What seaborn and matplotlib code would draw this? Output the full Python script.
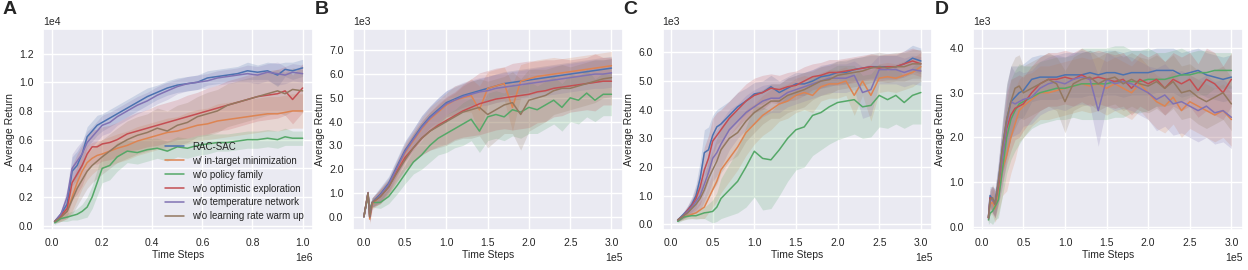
import numpy as np
import pandas as pd
import matplotlib
matplotlib.use("Agg")
import matplotlib.pyplot as plt
import seaborn as sns
from matplotlib.ticker import ScalarFormatter, MultipleLocator

# ---------------- DATA (values in displayed units: x * X_SCALE, y * Y_SCALE) ----------------
series_names = ["RAC-SAC", "w/ in-target minimization", "w/o policy family",
                "w/o optimistic exploration", "w/o temperature network",
                "w/o learning rate warm up"]

# Panel A  (x in 1e6, y in 1e4)
a_x = [0.01, 0.035, 0.06, 0.08, 0.1, 0.12, 0.14, 0.16, 0.18, 0.2, 0.23, 0.26, 0.3, 0.34, 0.38,
       0.42, 0.46, 0.5, 0.54, 0.58, 0.62, 0.66, 0.7, 0.74, 0.78, 0.82, 0.86, 0.9, 0.93, 0.96, 1.0]
a_rac = [0.03, 0.08, 0.15, 0.38, 0.42, 0.50, 0.62, 0.66, 0.70, 0.72, 0.75, 0.78, 0.82, 0.86, 0.90,
         0.93, 0.96, 0.98, 0.99, 1.00, 1.03, 1.04, 1.05, 1.06, 1.08, 1.07, 1.08, 1.05, 1.09, 1.08, 1.10]
a_intarget = [0.03, 0.06, 0.10, 0.20, 0.30, 0.38, 0.44, 0.47, 0.49, 0.50, 0.52, 0.54, 0.56, 0.59, 0.61,
              0.63, 0.65, 0.66, 0.68, 0.70, 0.71, 0.73, 0.74, 0.75, 0.76, 0.77, 0.78, 0.78, 0.79, 0.80, 0.80]
a_policy = [0.02, 0.05, 0.06, 0.07, 0.08, 0.10, 0.13, 0.20, 0.30, 0.40, 0.42, 0.48, 0.52, 0.51, 0.53,
            0.54, 0.52, 0.55, 0.54, 0.56, 0.57, 0.58, 0.58, 0.59, 0.60, 0.60, 0.61, 0.60, 0.62, 0.61, 0.61]
a_optim = [0.03, 0.07, 0.12, 0.30, 0.36, 0.42, 0.50, 0.55, 0.55, 0.57, 0.58, 0.60, 0.64, 0.66, 0.68,
           0.70, 0.72, 0.74, 0.76, 0.78, 0.80, 0.82, 0.84, 0.86, 0.88, 0.90, 0.91, 0.92, 0.94, 0.88, 0.96]
a_temp = [0.03, 0.08, 0.20, 0.40, 0.45, 0.50, 0.58, 0.62, 0.66, 0.70, 0.72, 0.76, 0.80, 0.84, 0.87,
          0.91, 0.94, 0.97, 0.99, 1.00, 1.01, 1.03, 1.04, 1.05, 1.06, 1.05, 1.07, 1.06, 1.05, 1.07, 1.06]
a_warm = [0.03, 0.06, 0.10, 0.18, 0.26, 0.32, 0.38, 0.42, 0.45, 0.48, 0.52, 0.56, 0.60, 0.63, 0.65,
          0.68, 0.66, 0.70, 0.72, 0.76, 0.78, 0.80, 0.84, 0.86, 0.88, 0.90, 0.92, 0.94, 0.92, 0.95, 0.94]
a_sd_rac = [0.01, 0.02, 0.05, 0.10, 0.10, 0.08, 0.07, 0.07, 0.07, 0.06, 0.06, 0.06, 0.06, 0.06, 0.06,
            0.05, 0.05, 0.05, 0.05, 0.05, 0.05, 0.05, 0.05, 0.05, 0.06, 0.05, 0.06, 0.08, 0.05, 0.06, 0.06]
a_sd_intarget = [0.01, 0.03, 0.05, 0.10, 0.12, 0.12, 0.12, 0.11, 0.10, 0.10, 0.10, 0.10, 0.10, 0.10, 0.10,
                 0.10, 0.10, 0.10, 0.11, 0.11, 0.11, 0.12, 0.12, 0.12, 0.12, 0.12, 0.12, 0.12, 0.12, 0.12, 0.12]
a_sd_policy = [0.01, 0.02, 0.03, 0.03, 0.04, 0.05, 0.07, 0.08, 0.09, 0.10, 0.10, 0.10, 0.08, 0.08, 0.08,
               0.07, 0.07, 0.07, 0.07, 0.07, 0.07, 0.06, 0.06, 0.06, 0.06, 0.06, 0.06, 0.06, 0.06, 0.05, 0.05]
a_sd_optim = [0.01, 0.03, 0.06, 0.12, 0.14, 0.14, 0.12, 0.12, 0.12, 0.12, 0.12, 0.12, 0.12, 0.13, 0.13,
              0.14, 0.14, 0.14, 0.15, 0.15, 0.16, 0.16, 0.17, 0.17, 0.17, 0.17, 0.17, 0.17, 0.17, 0.17, 0.17]
a_sd_temp = [0.01, 0.02, 0.06, 0.10, 0.10, 0.09, 0.08, 0.07, 0.07, 0.07, 0.07, 0.06, 0.06, 0.06, 0.06,
             0.06, 0.06, 0.05, 0.05, 0.05, 0.05, 0.05, 0.05, 0.05, 0.06, 0.06, 0.06, 0.08, 0.06, 0.06, 0.06]
a_sd_warm = [0.01, 0.03, 0.05, 0.10, 0.12, 0.12, 0.12, 0.12, 0.12, 0.12, 0.12, 0.12, 0.13, 0.13, 0.13,
             0.14, 0.14, 0.14, 0.14, 0.14, 0.15, 0.15, 0.15, 0.15, 0.15, 0.15, 0.15, 0.15, 0.15, 0.15, 0.15]

# Panel B  (x in 1e5, y in 1e3)
b_x = [0.0, 0.05, 0.07, 0.1, 0.2, 0.3, 0.4, 0.5, 0.6, 0.7, 0.8, 0.9, 1.0, 1.1, 1.2, 1.3, 1.4,
       1.5, 1.6, 1.7, 1.8, 1.9, 2.0, 2.1, 2.2, 2.3, 2.4, 2.5, 2.6, 2.7, 2.8, 2.9, 3.0]
b_rac = [0.0, 1.0, 0.1, 0.6, 0.95, 1.4, 2.1, 2.8, 3.3, 3.8, 4.2, 4.5, 4.8, 4.95, 5.1, 5.2, 5.3,
         5.4, 5.5, 5.6, 5.65, 5.7, 5.75, 5.8, 5.85, 5.9, 5.95, 6.0, 6.05, 6.1, 6.15, 6.2, 6.25]
b_intarget = [0.0, 1.0, -0.1, 0.5, 0.9, 1.3, 2.0, 2.7, 3.2, 3.7, 4.1, 4.4, 4.7, 4.9, 5.0, 5.1, 4.5,
              5.4, 5.5, 5.6, 4.6, 5.7, 5.8, 5.9, 5.95, 6.0, 6.05, 6.1, 6.15, 6.2, 6.25, 6.3, 6.35]
b_policy = [0.0, 0.9, 0.3, 0.6, 0.6, 0.85, 1.3, 1.8, 2.3, 2.6, 3.0, 3.3, 3.5, 3.7, 3.9, 4.1, 3.6,
            4.2, 4.3, 4.2, 4.5, 4.4, 4.6, 4.5, 4.7, 4.9, 4.6, 5.0, 4.9, 5.2, 4.9, 5.15, 5.15]
b_optim = [0.0, 1.0, 0.0, 0.6, 0.85, 1.25, 1.9, 2.5, 2.9, 3.3, 3.6, 3.85, 4.05, 4.25, 4.45, 4.6, 4.75,
           4.85, 4.95, 5.0, 5.05, 5.1, 5.15, 5.25, 5.3, 5.4, 5.45, 5.5, 5.55, 5.6, 5.65, 5.7, 5.7]
b_temp = [0.0, 1.0, 0.0, 0.6, 0.9, 1.35, 2.05, 2.75, 3.25, 3.75, 4.15, 4.45, 4.75, 4.9, 5.05, 5.15, 5.25,
          5.3, 5.4, 5.45, 5.5, 5.55, 5.6, 5.65, 5.7, 5.75, 5.8, 5.85, 5.9, 5.95, 6.0, 6.0, 6.05]
b_warm = [0.0, 1.0, 0.0, 0.6, 0.85, 1.25, 1.85, 2.4, 2.9, 3.3, 3.6, 3.8, 4.0, 4.2, 4.4, 4.5, 4.6,
          4.3, 4.5, 4.7, 4.8, 4.3, 4.9, 5.0, 5.1, 5.3, 5.4, 5.4, 5.5, 5.6, 5.7, 5.8, 5.85]
b_sd_rac = [0.0, 0.1, 0.2, 0.2, 0.3, 0.3, 0.35, 0.4, 0.4, 0.45, 0.45, 0.5, 0.5, 0.5, 0.5, 0.5, 0.5,
            0.5, 0.5, 0.5, 0.5, 0.5, 0.5, 0.5, 0.5, 0.5, 0.5, 0.5, 0.5, 0.5, 0.5, 0.5, 0.5]
b_sd_intarget = [0.0, 0.1, 0.2, 0.2, 0.3, 0.3, 0.35, 0.4, 0.4, 0.45, 0.5, 0.5, 0.5, 0.6, 0.6, 0.7, 1.0,
                 0.7, 0.7, 0.7, 1.0, 0.7, 0.7, 0.7, 0.7, 0.7, 0.6, 0.6, 0.6, 0.6, 0.6, 0.6, 0.6]
b_sd_policy = [0.0, 0.1, 0.2, 0.2, 0.25, 0.3, 0.35, 0.4, 0.5, 0.6, 0.7, 0.7, 0.8, 0.8, 0.9, 0.9, 0.9,
               1.0, 1.0, 1.0, 1.1, 1.1, 1.1, 1.0, 1.0, 1.0, 1.0, 1.0, 1.0, 1.0, 0.9, 0.9, 0.9]
b_sd_optim = [0.0, 0.1, 0.2, 0.2, 0.3, 0.3, 0.4, 0.5, 0.6, 0.7, 0.8, 0.9, 1.0, 1.0, 1.1, 1.2, 1.3,
              1.3, 1.3, 1.3, 1.4, 1.4, 1.4, 1.3, 1.3, 1.2, 1.2, 1.1, 1.1, 1.1, 1.2, 1.0, 1.0]
b_sd_temp = [0.0, 0.1, 0.2, 0.2, 0.3, 0.3, 0.35, 0.4, 0.45, 0.5, 0.5, 0.55, 0.55, 0.6, 0.6, 0.6, 0.6,
             0.6, 0.6, 0.6, 0.6, 0.6, 0.6, 0.6, 0.6, 0.6, 0.6, 0.6, 0.6, 0.6, 0.6, 0.6, 0.6]
b_sd_warm = [0.0, 0.1, 0.2, 0.2, 0.3, 0.3, 0.4, 0.5, 0.6, 0.7, 0.8, 0.9, 1.0, 1.0, 1.1, 1.2, 1.2,
             1.4, 1.3, 1.2, 1.3, 1.5, 1.3, 1.2, 1.1, 1.0, 1.0, 0.9, 0.9, 0.9, 0.9, 0.8, 0.8]

# Panel C  (x in 1e5, y in 1e3)
c_x = [0.08, 0.15, 0.2, 0.25, 0.3, 0.35, 0.4, 0.45, 0.5, 0.55, 0.6, 0.7, 0.8, 0.9, 1.0, 1.1, 1.2,
       1.3, 1.4, 1.5, 1.6, 1.7, 1.8, 1.9, 2.0, 2.1, 2.2, 2.3, 2.4, 2.5, 2.6, 2.7, 2.8, 2.9, 3.0]
c_rac = [0.15, 0.35, 0.5, 0.7, 1.0, 1.6, 2.5, 2.6, 3.1, 3.4, 3.5, 3.8, 4.1, 4.3, 4.55, 4.6, 4.8,
         4.6, 4.75, 4.9, 4.9, 5.0, 5.15, 5.2, 5.3, 5.3, 5.4, 5.45, 5.5, 5.5, 5.5, 5.5, 5.6, 5.8, 5.7]
c_intarget = [0.15, 0.25, 0.3, 0.35, 0.4, 0.5, 0.6, 0.9, 1.2, 1.5, 1.9, 2.3, 2.7, 3.2, 3.5, 3.8, 4.0,
              4.2, 4.3, 4.5, 4.6, 4.5, 4.8, 4.9, 4.9, 5.0, 4.5, 5.0, 4.5, 5.1, 5.15, 5.1, 5.2, 5.3, 5.5]
c_policy = [0.1, 0.25, 0.28, 0.3, 0.3, 0.35, 0.4, 0.42, 0.45, 0.6, 0.9, 1.2, 1.5, 2.0, 2.55, 2.3, 2.25,
            2.6, 3.0, 3.3, 3.4, 3.8, 3.9, 4.1, 4.25, 4.3, 4.35, 4.1, 4.15, 4.5, 4.35, 4.5, 4.25, 4.5, 4.6]
c_optim = [0.15, 0.3, 0.5, 0.65, 0.9, 1.3, 1.9, 2.3, 2.9, 3.1, 3.3, 3.7, 4.0, 4.3, 4.5, 4.6, 4.75,
           4.7, 4.8, 4.85, 5.0, 5.15, 5.2, 5.3, 5.3, 5.35, 5.4, 5.45, 5.5, 5.45, 5.5, 5.5, 5.6, 5.7, 5.6]
c_temp = [0.15, 0.3, 0.45, 0.6, 0.8, 1.0, 1.4, 1.8, 2.3, 2.5, 2.8, 3.3, 3.6, 3.9, 4.1, 4.3, 4.4,
          4.4, 4.6, 4.7, 4.8, 4.9, 5.0, 5.1, 5.1, 5.1, 5.2, 4.6, 4.7, 5.4, 5.4, 5.4, 5.3, 5.4, 5.35]
c_warm = [0.15, 0.3, 0.4, 0.55, 0.7, 0.9, 1.2, 1.6, 1.9, 2.2, 2.6, 3.0, 3.2, 3.6, 3.9, 4.1, 4.3,
          4.3, 4.5, 4.6, 4.7, 4.85, 5.0, 5.05, 5.2, 5.25, 5.3, 5.35, 5.45, 5.5, 5.45, 5.5, 5.5, 5.6, 5.6]
c_sd_rac = [0.05, 0.1, 0.15, 0.25, 0.4, 0.6, 0.8, 0.8, 0.7, 0.6, 0.6, 0.5, 0.5, 0.45, 0.4, 0.4, 0.4,
            0.4, 0.4, 0.4, 0.4, 0.4, 0.4, 0.4, 0.4, 0.4, 0.4, 0.4, 0.4, 0.4, 0.4, 0.4, 0.45, 0.45, 0.45]
c_sd_intarget = [0.05, 0.1, 0.1, 0.15, 0.2, 0.3, 0.4, 0.5, 0.6, 0.7, 0.8, 0.8, 0.8, 0.8, 0.7, 0.7, 0.7,
                 0.6, 0.6, 0.6, 0.6, 0.6, 0.5, 0.5, 0.5, 0.5, 0.7, 0.5, 0.9, 0.5, 0.5, 0.5, 0.5, 0.5, 0.5]
c_sd_policy = [0.05, 0.1, 0.1, 0.1, 0.12, 0.15, 0.2, 0.3, 0.4, 0.5, 0.7, 0.9, 1.1, 1.4, 1.6, 1.8, 1.7,
               1.6, 1.5, 1.4, 1.4, 1.4, 1.3, 1.3, 1.3, 1.25, 1.2, 1.1, 1.1, 1.1, 1.0, 1.0, 0.9, 1.0, 1.1]
c_sd_optim = [0.05, 0.1, 0.15, 0.25, 0.4, 0.6, 0.8, 0.8, 0.8, 0.8, 0.7, 0.6, 0.6, 0.6, 0.6, 0.6, 0.5,
              0.5, 0.5, 0.5, 0.5, 0.45, 0.45, 0.45, 0.45, 0.45, 0.45, 0.45, 0.45, 0.45, 0.45, 0.45, 0.45, 0.45, 0.45]
c_sd_temp = [0.05, 0.1, 0.15, 0.25, 0.35, 0.5, 0.6, 0.7, 0.8, 0.8, 0.8, 0.7, 0.6, 0.6, 0.6, 0.55, 0.5,
             0.5, 0.5, 0.5, 0.5, 0.5, 0.5, 0.5, 0.5, 0.5, 0.5, 0.9, 0.9, 0.5, 0.5, 0.5, 0.5, 0.5, 0.5]
c_sd_warm = [0.05, 0.1, 0.15, 0.2, 0.3, 0.4, 0.5, 0.6, 0.7, 0.8, 0.8, 0.8, 0.8, 0.7, 0.7, 0.6, 0.6,
             0.6, 0.6, 0.6, 0.6, 0.5, 0.5, 0.5, 0.5, 0.5, 0.5, 0.5, 0.5, 0.5, 0.5, 0.5, 0.5, 0.5, 0.5]

# Panel D  (x in 1e5, y in 1e3)
d_x = [0.08, 0.1, 0.13, 0.16, 0.2, 0.25, 0.3, 0.35, 0.4, 0.45, 0.5, 0.6, 0.7, 0.8, 0.9, 1.0, 1.1, 1.2,
       1.3, 1.4, 1.5, 1.6, 1.7, 1.8, 1.9, 2.0, 2.1, 2.2, 2.3, 2.4, 2.5, 2.6, 2.7, 2.8, 2.9, 3.0]
d_rac = [0.2, 0.7, 0.6, 0.55, 1.0, 1.8, 2.4, 2.8, 2.9, 3.0, 3.05, 3.3, 3.35, 3.35, 3.35, 3.4, 3.4, 3.4,
         3.45, 3.4, 3.45, 3.45, 3.4, 3.45, 3.45, 3.45, 3.5, 3.5, 3.5, 3.4, 3.45, 3.5, 3.4, 3.35, 3.3, 3.35]
d_intarget = [0.2, 0.5, 0.55, 0.4, 0.7, 1.3, 1.6, 2.0, 2.3, 2.6, 2.7, 2.85, 3.0, 3.0, 3.05, 3.1, 3.15, 3.2,
              3.15, 3.2, 3.1, 3.2, 3.1, 3.0, 3.2, 3.0, 2.8, 2.7, 2.9, 2.6, 2.8, 2.7, 2.6, 2.5, 2.6, 2.4]
d_policy = [0.15, 0.3, 0.35, 0.45, 0.6, 1.3, 2.0, 2.4, 2.6, 2.75, 2.8, 2.9, 3.0, 3.05, 3.1, 3.1, 3.15, 3.2,
            3.2, 3.2, 3.2, 3.25, 3.25, 3.25, 3.25, 3.3, 3.3, 3.3, 3.35, 3.4, 3.4, 3.45, 3.45, 3.5, 3.5, 3.5]
d_optim = [0.2, 0.65, 0.6, 0.5, 0.9, 1.6, 2.2, 2.5, 2.65, 2.7, 2.75, 3.0, 3.2, 3.3, 3.3, 3.35, 3.3, 3.4,
           3.3, 3.35, 3.3, 3.25, 3.3, 3.1, 3.3, 3.2, 3.3, 3.1, 3.3, 3.2, 3.3, 3.05, 3.3, 3.2, 3.0, 3.3]
d_temp = [0.2, 0.6, 0.6, 0.5, 1.0, 1.6, 2.3, 2.8, 2.75, 2.8, 2.85, 2.9, 3.1, 3.2, 3.25, 3.2, 3.3, 3.35,
          3.3, 2.6, 3.3, 3.2, 3.25, 3.2, 3.1, 3.0, 2.85, 2.95, 2.75, 2.8, 2.7, 2.6, 2.7, 2.55, 2.6, 2.45]
d_warm = [0.2, 0.6, 0.65, 0.5, 1.0, 1.8, 2.4, 2.8, 3.1, 3.15, 3.0, 3.1, 3.2, 3.3, 3.2, 2.8, 3.2, 3.3,
          3.35, 3.2, 3.3, 3.35, 3.2, 3.3, 3.2, 3.15, 3.25, 3.1, 3.25, 3.0, 3.05, 2.9, 2.8, 2.9, 3.0, 2.75]
d_sd_rac = [0.1, 0.2, 0.3, 0.3, 0.4, 0.6, 0.8, 0.8, 0.7, 0.6, 0.6, 0.5, 0.5, 0.5, 0.5, 0.5, 0.5, 0.5,
            0.5, 0.5, 0.5, 0.5, 0.5, 0.5, 0.5, 0.5, 0.5, 0.5, 0.5, 0.5, 0.5, 0.5, 0.5, 0.5, 0.5, 0.5]
d_sd_intarget = [0.1, 0.2, 0.3, 0.3, 0.4, 0.6, 0.8, 0.8, 0.8, 0.7, 0.7, 0.6, 0.6, 0.6, 0.6, 0.6, 0.6, 0.6,
                 0.6, 0.6, 0.6, 0.6, 0.6, 0.6, 0.6, 0.6, 0.6, 0.6, 0.6, 0.6, 0.6, 0.6, 0.6, 0.6, 0.6, 0.6]
d_sd_policy = [0.1, 0.2, 0.3, 0.3, 0.4, 0.6, 0.8, 0.9, 0.9, 0.9, 0.8, 0.7, 0.7, 0.7, 0.7, 0.7, 0.7, 0.8,
               0.8, 0.8, 0.8, 0.8, 0.8, 0.7, 0.7, 0.7, 0.6, 0.6, 0.6, 0.6, 0.5, 0.5, 0.5, 0.4, 0.4, 0.4]
d_sd_optim = [0.1, 0.2, 0.3, 0.3, 0.4, 0.6, 0.8, 0.8, 0.7, 0.7, 0.6, 0.6, 0.6, 0.6, 0.6, 0.6, 0.6, 0.6,
              0.6, 0.6, 0.6, 0.6, 0.6, 0.6, 0.6, 0.6, 0.6, 0.6, 0.6, 0.6, 0.6, 0.6, 0.7, 0.7, 0.6, 0.6]
d_sd_temp = [0.1, 0.2, 0.3, 0.3, 0.5, 0.7, 0.8, 0.8, 0.7, 0.7, 0.6, 0.6, 0.6, 0.6, 0.6, 0.6, 0.6, 0.6,
             0.6, 0.8, 0.6, 0.6, 0.6, 0.6, 0.6, 0.6, 0.7, 0.7, 0.7, 0.7, 0.7, 0.7, 0.7, 0.7, 0.7, 0.7]
d_sd_warm = [0.1, 0.2, 0.3, 0.3, 0.4, 0.6, 0.8, 0.8, 0.7, 0.7, 0.6, 0.6, 0.6, 0.6, 0.6, 0.7, 0.6, 0.6,
             0.6, 0.6, 0.6, 0.6, 0.6, 0.6, 0.6, 0.6, 0.6, 0.6, 0.6, 0.6, 0.6, 0.6, 0.6, 0.6, 0.6, 0.6]

panels = [
    dict(letter="A", x=a_x, xs=1e6, ys=1e4,
         means=[a_rac, a_intarget, a_policy, a_optim, a_temp, a_warm],
         sds=[a_sd_rac, a_sd_intarget, a_sd_policy, a_sd_optim, a_sd_temp, a_sd_warm],
         xlim=(-0.036, 1.04), ylim=(-0.03, 1.372), xstep=0.2, ystep=0.2),
    dict(letter="B", x=b_x, xs=1e5, ys=1e3,
         means=[b_rac, b_intarget, b_policy, b_optim, b_temp, b_warm],
         sds=[b_sd_rac, b_sd_intarget, b_sd_policy, b_sd_optim, b_sd_temp, b_sd_warm],
         xlim=(-0.13, 3.137), ylim=(-0.56, 7.9), xstep=0.5, ystep=1.0),
    dict(letter="C", x=c_x, xs=1e5, ys=1e3,
         means=[c_rac, c_intarget, c_policy, c_optim, c_temp, c_warm],
         sds=[c_sd_rac, c_sd_intarget, c_sd_policy, c_sd_optim, c_sd_temp, c_sd_warm],
         xlim=(-0.1, 3.137), ylim=(-0.2, 6.82), xstep=0.5, ystep=1.0),
    dict(letter="D", x=d_x, xs=1e5, ys=1e3,
         means=[d_rac, d_intarget, d_policy, d_optim, d_temp, d_warm],
         sds=[d_sd_rac, d_sd_intarget, d_sd_policy, d_sd_optim, d_sd_temp, d_sd_warm],
         xlim=(-0.1, 3.14), ylim=(-0.075, 4.43), xstep=0.5, ystep=1.0),
]

# ---------------- STYLE ----------------
sns.set_theme(style="darkgrid")
plt.rcParams['font.family'] = ['Liberation Sans', 'DejaVu Sans']
plt.rcParams['font.size'] = 7.5
colors = sns.color_palette("deep", 6)


class OneDecimal(ScalarFormatter):
    def _set_format(self):
        self.format = "%1.1f"


fig = plt.figure(figsize=(12.48, 2.7), dpi=100)
lefts = [0.0345, 0.283, 0.531, 0.780]
letter_x = [0.002, 0.252, 0.499, 0.749]

for i, p in enumerate(panels):
    ax = fig.add_axes([lefts[i], 0.148, 0.216, 0.745])
    x = np.array(p["x"]) * p["xs"]
    for name, m, s, c in zip(series_names, p["means"], p["sds"], colors):
        m = np.array(m) * p["ys"]
        s = np.array(s) * p["ys"]
        df = pd.DataFrame({"Time Steps": x, "Average Return": m})
        ax.fill_between(x, m - s, m + s, color=c, alpha=0.2, linewidth=0)
        sns.lineplot(data=df, x="Time Steps", y="Average Return", color=c,
                     linewidth=1.1, ax=ax, label=name if i == 0 else None,
                     errorbar=None, legend=False)
    ax.set_xlim(p["xlim"][0] * p["xs"], p["xlim"][1] * p["xs"])
    ax.set_ylim(p["ylim"][0] * p["ys"], p["ylim"][1] * p["ys"])
    ax.xaxis.set_major_locator(MultipleLocator(p["xstep"] * p["xs"]))
    ax.yaxis.set_major_locator(MultipleLocator(p["ystep"] * p["ys"]))
    for axis in (ax.xaxis, ax.yaxis):
        f = OneDecimal(useMathText=False)
        f.set_powerlimits((0, 0))
        axis.set_major_formatter(f)
    ax.xaxis.get_offset_text().set_fontsize(7.5)
    ax.yaxis.get_offset_text().set_fontsize(7.5)
    ax.tick_params(axis="x", labelsize=7.5, pad=6, length=0)
    ax.tick_params(axis="y", labelsize=7.5, pad=7, length=0)
    ax.set_xlabel("Time Steps", fontsize=7.5, labelpad=1)
    ax.set_ylabel("Average Return", fontsize=7.5, labelpad=3)
    fig.text(letter_x[i], 0.995, p["letter"], fontsize=14, fontweight="bold",
             va="top", ha="left")
    if i == 0:
        ax.legend(loc="lower right", frameon=False, fontsize=7, labelspacing=0.4,
                  handlelength=2.0)

fig.savefig("out.png", dpi=100)
